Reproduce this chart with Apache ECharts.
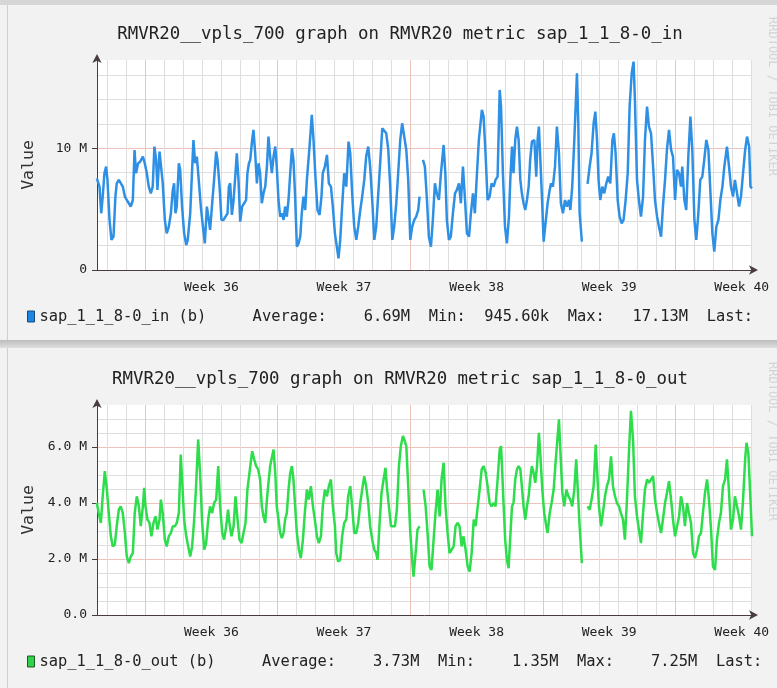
<!DOCTYPE html>
<html><head><meta charset="utf-8">
<script src="https://cdn.jsdelivr.net/npm/echarts@6/dist/echarts.min.js"></script>
<style>html,body{margin:0;padding:0;background:#f2f2f2;}#c{width:777px;height:688px;}</style>
</head><body><div id="c"></div>
<script>
// ---- data (time in days relative to the start of Week 36, values in M) ----
const hourStart = -61, hourEnd = 769;        // visible period, hours from Week 36 start
const firstWeek = 36;
const titles = ['RMVR20__vpls_700 graph on RMVR20 metric sap_1_1_8-0_in',
                'RMVR20__vpls_700 graph on RMVR20 metric sap_1_1_8-0_out'];
const seriesNames = ['sap_1_1_8-0_in (b)', 'sap_1_1_8-0_out (b)'];
const inStats = ['6.69M', '945.60k', '17.13M'];
const outStats = ['3.73M', '1.35M', '7.25M'];
const inAxis = {max: 17.25, minor: 2, major: 10};
const outAxis = {max: 7.5, minor: 0.5, major: 2};
const watermark = 'RRDTOOL / TOBI OETIKER';

const inSeries = [[-2.55,7.53],[-2.41,6.85],[-2.32,4.66],[-2.24,6.03],[-2.15,7.95],[-2.06,8.49],[-1.99,7.40],[-1.88,4.11],[-1.78,2.47],[-1.67,2.74],[-1.57,6.03],[-1.50,7.12],[-1.39,7.40],[-1.29,7.53],[-1.18,6.85],[-1.07,6.03],[-0.97,5.75],[-0.86,5.48],[-0.76,5.21],[-0.65,5.75],[-0.56,9.86],[-0.48,7.95],[-0.37,8.77],[-0.26,8.90],[-0.12,9.32],[-0.02,8.77],[0.09,7.95],[0.19,6.85],[0.30,6.30],[0.40,6.85],[0.49,10.14],[0.58,9.04],[0.65,6.58],[0.76,9.73],[0.85,9.59],[0.93,7.12],[1.04,4.11],[1.14,3.01],[1.25,3.56],[1.36,4.66],[1.46,6.58],[1.53,7.12],[1.60,4.66],[1.67,5.21],[1.78,8.77],[1.85,8.22],[1.95,5.21],[2.06,3.01],[2.17,2.05],[2.25,2.47],[2.38,4.66],[2.48,8.22],[2.55,10.68],[2.64,8.77],[2.73,9.32],[2.83,7.40],[2.94,5.21],[3.05,3.56],[3.15,2.19],[3.26,5.21],[3.36,4.11],[3.43,3.29],[3.54,5.48],[3.64,7.40],[3.75,9.73],[3.82,9.04],[3.93,6.85],[4.03,4.11],[4.14,4.11],[4.24,3.97],[4.35,4.66],[4.42,6.85],[4.49,7.12],[4.58,4.52],[4.67,5.75],[4.77,7.95],[4.84,9.59],[4.93,7.40],[5.02,3.97],[5.12,5.21],[5.23,5.48],[5.33,5.75],[5.40,7.95],[5.48,8.77],[5.55,9.04],[5.65,10.68],[5.72,11.51],
[5.81,9.59],[5.90,7.12],[5.99,8.77],[6.07,7.95],[6.16,5.48],[6.25,6.30],[6.34,6.85],[6.43,8.49],[6.51,10.96],[6.60,9.32],[6.69,7.95],[6.78,9.32],[6.87,10.14],[6.95,8.49],[7.04,5.75],[7.13,4.38],[7.22,4.66],[7.31,4.11],[7.39,5.21],[7.48,4.38],[7.57,5.75],[7.66,7.95],[7.75,10.00],[7.83,9.04],[7.92,6.03],[8.01,1.92],[8.10,2.19],[8.19,2.74],[8.27,4.66],[8.36,6.03],[8.45,4.93],[8.54,7.40],[8.68,10.14],[8.80,12.74],[8.89,10.68],[9.00,7.40],[9.10,4.93],[9.21,4.52],[9.31,6.03],[9.38,7.95],[9.49,8.49],[9.60,9.45],[9.70,7.12],[9.81,6.85],[9.91,5.21],[10.02,3.01],[10.12,1.92],[10.21,0.96],[10.30,2.47],[10.40,5.21],[10.51,7.95],[10.62,6.85],[10.74,10.55],[10.83,9.59],[10.93,6.30],[11.04,3.56],[11.15,2.47],[11.25,3.56],[11.36,4.93],[11.46,6.03],[11.57,7.40],[11.67,9.32],[11.78,10.14],[11.88,8.49],[11.99,5.75],[12.10,2.47],[12.20,3.56],[12.31,6.30],[12.42,9.04],[12.52,11.64],[12.62,11.78],[12.73,11.23],[12.84,9.86],[12.94,6.85],[13.05,2.47],[13.15,3.56],[13.26,5.48],[13.36,7.95],[13.47,10.68],[13.57,12.05],[13.68,10.96],[13.79,9.86],[13.89,7.40],[14.00,2.47],[14.10,3.56],[14.21,4.11],[14.31,4.38],[14.42,4.93],[14.49,6.03],[14.58,'-'],[14.67,9.04],[14.77,8.49],[14.88,5.75],[14.98,2.74],[15.09,1.92],[15.19,4.11],[15.30,7.12],[15.40,6.30],[15.51,5.75],[15.62,7.95],[15.76,10.27],[15.85,7.95],[15.93,4.11],[16.04,2.47],[16.14,2.74],[16.25,4.66],[16.36,6.30],[16.46,6.58],[16.57,7.12],[16.67,5.48],[16.78,8.49],[16.89,5.75],[16.99,3.01],[17.10,2.74],[17.20,4.66],[17.31,6.30],[17.41,4.66],[17.52,7.95],[17.62,10.68],[17.78,13.15],[17.87,12.60],[17.98,9.32],[18.08,5.75],[18.19,6.03],[18.29,7.12],[18.40,6.85],[18.50,7.40],[18.61,7.67],[18.72,14.79],[18.79,13.42],[18.89,7.95],[19.00,3.56],[19.10,2.19],[19.21,4.38],
[19.28,7.40],[19.37,10.14],[19.45,7.95],[19.54,10.68],[19.63,11.78],[19.72,10.68],[19.81,7.40],[19.89,6.30],[19.98,5.48],[20.07,4.93],[20.16,5.75],[20.25,6.85],[20.33,9.04],[20.42,10.55],[20.55,10.68],[20.65,7.67],[20.72,10.68],[20.79,11.78],[20.86,9.32],[20.95,6.03],[21.04,2.33],[21.14,3.84],[21.25,5.48],[21.36,6.58],[21.43,7.12],[21.53,6.85],[21.64,8.49],[21.74,11.78],[21.85,9.59],[21.95,5.48],[22.06,4.66],[22.17,5.75],[22.27,5.21],[22.38,5.75],[22.45,4.93],[22.55,6.85],[22.66,10.68],[22.80,16.16],[22.87,12.05],[22.94,4.66],[23.06,2.33],[23.2,'-'],[23.36,7.07],[23.47,8.49],[23.57,9.59],[23.68,12.05],[23.77,13.01],[23.86,10.68],[23.94,7.40],[24.03,5.75],[24.14,6.85],[24.24,6.30],[24.35,7.12],[24.45,7.67],[24.56,7.12],[24.67,10.68],[24.75,11.23],[24.84,9.59],[24.95,5.75],[25.05,4.38],[25.16,3.84],[25.26,4.11],[25.37,5.75],[25.48,7.95],[25.58,13.42],[25.69,16.16],[25.79,17.12],[25.86,13.97],[25.97,7.40],[26.07,5.75],[26.18,4.38],[26.29,6.03],[26.39,10.68],[26.50,13.42],[26.60,11.78],[26.71,11.23],[26.82,8.49],[26.92,5.75],[27.03,4.38],[27.13,3.56],[27.24,2.74],[27.34,5.21],[27.45,7.40],[27.55,9.86],[27.66,11.51],[27.77,9.86],[27.87,9.32],[27.98,5.75],[28.08,8.22],[28.19,7.95],[28.29,6.85],[28.36,8.49],[28.47,5.75],[28.57,4.93],[28.68,9.32],[28.79,12.60],[28.89,9.86],[29.00,4.11],[29.10,2.47],[29.21,4.66],[29.31,7.40],[29.42,7.67],[29.52,9.04],[29.63,10.68],[29.74,9.86],[29.84,6.58],[29.95,3.01],[30.05,1.51],[30.16,3.56],[30.27,4.11],[30.37,5.75],[30.48,6.85],[30.58,8.49],[30.72,10.14],[30.83,8.49],[30.93,6.85],[31.04,6.03],[31.14,7.40],[31.25,6.30],[31.36,5.21],[31.46,6.03],[31.57,7.95],[31.68,9.86],[31.78,10.96],[31.89,10.14],[31.96,6.85],[32.04,6.71]];

const outSeries = [[-2.55,4.00],[-2.45,3.64],[-2.34,3.29],[-2.24,4.24],[-2.13,5.14],[-2.02,4.48],[-1.92,3.64],[-1.81,2.81],[-1.71,2.45],[-1.60,2.51],[-1.50,3.17],[-1.39,3.76],[-1.29,3.88],[-1.18,3.64],[-1.07,2.93],[-0.97,2.09],[-0.86,1.85],[-0.76,2.09],[-0.65,2.21],[-0.55,3.64],[-0.44,4.24],[-0.33,3.88],[-0.23,3.17],[-0.12,3.88],[-0.05,4.54],[0.02,3.88],[0.12,3.41],[0.23,3.29],[0.33,2.81],[0.44,3.29],[0.55,3.52],[0.65,3.05],[0.76,3.41],[0.83,4.12],[0.93,3.64],[1.04,2.69],[1.14,2.45],[1.25,2.81],[1.36,2.93],[1.46,3.17],[1.57,3.17],[1.67,3.29],[1.78,3.64],[1.88,5.73],[1.95,4.84],[2.06,3.41],[2.17,2.81],[2.27,2.81],[2.38,2.09],[2.48,2.45],[2.59,3.41],[2.69,4.60],[2.80,6.27],[2.90,5.08],[3.01,3.29],[3.12,2.33],[3.22,2.57],[3.33,3.41],[3.43,3.88],[3.54,3.64],[3.64,4.00],[3.75,4.12],[3.86,5.32],[3.96,3.88],[4.07,2.93],[4.17,2.69],[4.28,3.17],[4.38,3.76],[4.45,3.29],[4.56,2.81],[4.67,3.17],[4.77,4.24],[4.88,3.41],[4.98,2.69],[5.09,2.57],[5.19,2.63],[5.30,3.29],[5.40,4.48],[5.51,5.08],[5.65,5.85],[5.76,5.56],[5.86,5.32],[5.97,5.20],[6.07,4.84],
[6.16,3.88],[6.25,3.52],[6.34,3.29],[6.43,4.12],[6.51,4.72],[6.60,5.32],[6.69,5.62],[6.78,5.91],[6.87,5.08],[6.95,3.88],[7.04,3.41],[7.13,2.93],[7.22,2.75],[7.31,2.93],[7.39,3.41],[7.48,3.64],[7.57,4.48],[7.66,5.08],[7.75,5.32],[7.83,4.84],[7.92,3.88],[8.01,2.93],[8.12,2.33],[8.22,2.03],[8.33,2.69],[8.43,3.64],[8.54,4.48],[8.64,4.12],[8.75,4.60],[8.86,3.88],[8.96,3.41],[9.07,2.81],[9.17,2.57],[9.28,2.81],[9.38,3.88],[9.49,4.48],[9.60,4.24],[9.70,4.60],[9.81,4.84],[9.91,3.88],[10.02,3.17],[10.09,2.21],[10.19,1.91],[10.30,1.97],[10.40,2.81],[10.51,3.29],[10.62,3.41],[10.72,4.24],[10.83,4.60],[10.93,3.88],[11.04,2.93],[11.15,2.93],[11.25,3.29],[11.36,4.00],[11.46,4.48],[11.57,4.96],[11.67,4.60],[11.78,4.00],[11.88,3.17],[11.99,2.69],[12.10,2.33],[12.20,2.21],[12.27,1.97],[12.38,3.29],[12.48,4.36],[12.59,4.84],[12.69,5.26],[12.76,4.60],[12.87,3.88],[12.98,3.17],[13.08,3.17],[13.19,3.17],[13.29,3.76],[13.40,5.32],[13.50,6.03],[13.61,6.39],[13.68,6.27],[13.79,6.03],[13.89,4.60],[14.00,2.93],[14.10,1.97],[14.17,1.37],[14.28,2.21],[14.38,3.05],[14.49,3.17],[14.6,'-'],[14.70,4.48],[14.81,3.88],[14.91,2.93],[15.02,1.73],[15.12,1.61],[15.23,2.69],[15.33,3.64],[15.44,4.48],[15.55,3.52],[15.65,4.84],[15.76,5.44],[15.86,3.88],[15.97,2.93],[16.07,2.21],[16.18,2.33],[16.29,2.45],[16.39,3.17],[16.50,3.29],[16.60,3.17],[16.71,2.45],[16.81,2.81],[16.92,2.33],[17.03,1.73],[17.13,1.55],[17.24,2.21],[17.35,3.41],[17.45,3.17],[17.56,3.88],[17.66,4.48],[17.77,5.20],[17.87,5.32],[17.98,5.08],[18.08,4.60],[18.19,4.00],[18.29,3.88],[18.40,4.00],[18.50,3.88],[18.61,4.84],[18.72,5.91],[18.79,6.03],
[18.84,5.32],[18.93,3.88],[19.01,2.69],[19.10,1.97],[19.19,1.67],[19.28,2.81],[19.37,3.88],[19.45,4.00],[19.54,4.84],[19.63,5.20],[19.72,5.32],[19.81,5.20],[19.89,4.60],[19.98,3.88],[20.07,3.41],[20.16,3.88],[20.25,4.24],[20.33,4.84],[20.42,5.32],[20.51,5.08],[20.60,4.72],[20.69,5.32],[20.79,6.51],[20.86,5.79],[20.97,4.48],[21.07,3.64],[21.18,3.17],[21.25,2.93],[21.36,3.64],[21.46,4.00],[21.57,4.48],[21.67,5.44],[21.78,6.39],[21.85,6.99],[21.92,5.91],[22.03,4.36],[22.13,3.88],[22.24,4.48],[22.35,4.24],[22.45,4.12],[22.55,3.88],[22.66,4.48],[22.76,5.56],[22.87,4.12],[22.94,3.17],[23.06,1.85],[23.2,'-'],[23.36,3.88],[23.47,3.76],[23.57,4.12],[23.68,4.60],[23.79,6.09],[23.86,5.20],[23.96,3.88],[24.07,3.17],[24.17,3.64],[24.28,4.24],[24.38,4.60],[24.49,4.84],[24.60,5.67],[24.70,4.60],[24.81,4.24],[24.91,4.00],[25.02,3.88],[25.12,3.64],[25.23,3.41],[25.33,2.69],[25.44,4.12],[25.55,5.91],[25.65,7.29],[25.76,6.27],[25.86,4.24],[25.97,3.52],[26.07,3.05],[26.18,2.57],[26.29,3.64],[26.39,4.48],[26.50,4.84],[26.60,4.72],[26.71,4.84],[26.82,4.96],[26.92,4.12],[27.03,3.64],[27.13,3.29],[27.24,2.93],[27.34,3.41],[27.45,4.00],[27.55,4.36],[27.66,4.78],[27.77,4.12],[27.87,3.41],[27.98,2.81],[28.08,2.81],[28.19,3.52],[28.29,4.24],[28.40,3.88],[28.50,3.17],[28.61,4.00],[28.71,3.64],[28.82,3.29],[28.93,2.21],[29.03,2.03],[29.14,2.33],[29.24,2.81],[29.35,2.93],[29.45,3.64],[29.56,4.36],[29.67,4.84],[29.77,4.12],[29.88,3.05],[29.98,1.73],[30.09,1.61],[30.19,2.69],[30.30,3.29],[30.40,3.64],[30.51,4.60],[30.62,4.84],[30.72,5.56],[30.83,4.36],[30.93,3.05],[31.04,3.41],[31.14,4.24],[31.25,3.88],[31.36,3.52],[31.46,3.05],[31.57,4.12],[31.68,5.56],[31.75,6.15],[31.85,5.79],[31.96,4.12],[32.04,2.81]];

// ---- chart ----
const MONO = "'DejaVu Sans Mono', monospace";
const hours = [];
for (let h = hourStart; h <= hourEnd; h++) hours.push(String(h));

const panels = [
  {top: 60, title: 26, legend: 309, axis: inAxis, color: '#2e90e4', icon: '#1f86e0', iconBorder: '#174a7c',
   data: inSeries, stats: inStats, fmt: v => v === 0 ? '0' : v + ' M'},
  {top: 405, title: 371, legend: 654, axis: outAxis, color: '#2ddd4c', icon: '#2fd24a', iconBorder: '#1d5a26',
   data: outSeries, stats: outStats, fmt: v => v.toFixed(1) + (v === 0 ? '' : ' M')}
];
const AXIS_COL = '#4a3c3c', MINOR = '#dedede', MAJOR = '#efc2bc';

function legendText(name, s) {
  return name + '     Average:' + s[0].padStart(9) + '  Min:' + s[1].padStart(9) +
         '  Max:' + s[2].padStart(9) + '  Last:';
}

const option = {
  backgroundColor: '#f2f2f2',
  animation: false,
  title: panels.map((p, i) => ({
    text: titles[i], left: 400, top: p.title, textAlign: 'center', padding: 0,
    textStyle: {fontFamily: MONO, fontSize: 17.4, fontWeight: 'normal', color: '#222'}
  })),
  legend: panels.map((p, i) => ({
    left: 27, top: p.legend, padding: 0, itemWidth: 7, itemHeight: 11, icon: 'rect',
    data: [{name: seriesNames[i], itemStyle: {color: p.icon, borderColor: p.iconBorder, borderWidth: 1}}],
    formatter: n => legendText(n, p.stats),
    textStyle: {fontFamily: MONO, fontSize: 15.4, color: '#222'},
    selectedMode: false
  })),
  grid: panels.map(p => ({left: 97, top: p.top, width: 655, height: 210, show: true,
    backgroundColor: '#ffffff', borderWidth: 0})),
  xAxis: [],
  yAxis: [],
  series: [],
  graphic: []
};

panels.forEach((p, i) => {
  const gx = option.xAxis.length;
  // daily minor grid
  option.xAxis.push({type: 'category', gridIndex: i, data: hours, boundaryGap: false, position: 'bottom',
    axisLine: {show: false}, axisTick: {show: false}, axisLabel: {show: false},
    splitLine: {show: true, interval: (idx, v) => (+v) % 24 === 0 && (+v) % 168 !== 0,
      lineStyle: {color: MINOR, width: 1}}});
  // weekly major grid + labels + axis line
  option.xAxis.push({type: 'category', gridIndex: i, data: hours, boundaryGap: false, position: 'bottom',
    axisLine: {show: true, lineStyle: {color: AXIS_COL, width: 1}, symbol: ['none', 'arrow'],
      symbolSize: [7, 9], symbolOffset: [0, 6]},
    axisTick: {show: false},
    axisLabel: {show: true, interval: (idx, v) => ((+v) - 84) % 168 === 0, margin: 11,
      formatter: v => 'Week ' + (firstWeek + ((+v) - 84) / 168),
      fontFamily: MONO, fontSize: 13, color: '#222'},
    splitLine: {show: true, interval: (idx, v) => (+v) % 168 === 0, lineStyle: {color: MAJOR, width: 1}}});
  // data axis (days)
  option.xAxis.push({type: 'value', gridIndex: i, show: false, min: hourStart / 24, max: hourEnd / 24, position: 'bottom'});

  const gy = option.yAxis.length;
  option.yAxis.push({type: 'value', gridIndex: i, position: 'left', min: 0, max: p.axis.max, interval: p.axis.minor,
    axisLine: {show: false}, axisTick: {show: false}, axisLabel: {show: false},
    splitLine: {show: true, showMinLine: false, showMaxLine: false, lineStyle: {color: MINOR, width: 1}}});
  option.yAxis.push({type: 'value', gridIndex: i, position: 'left', min: 0, max: p.axis.max, interval: p.axis.major,
    name: 'Value', nameLocation: 'middle', nameGap: 60, nameRotate: 90,
    nameTextStyle: {fontFamily: MONO, fontSize: 16.5, color: '#333'},
    axisLine: {show: true, lineStyle: {color: AXIS_COL, width: 1}, symbol: ['none', 'arrow'],
      symbolSize: [7, 9], symbolOffset: [0, 6]},
    axisTick: {show: true, length: 5, lineStyle: {color: AXIS_COL}},
    axisLabel: {show: true, margin: 10, showMaxLabel: false, formatter: p.fmt,
      fontFamily: MONO, fontSize: 13, color: '#222'},
    splitLine: {show: true, showMinLine: false, showMaxLine: false, lineStyle: {color: MAJOR, width: 1}}});

  option.series.push({type: 'line', name: seriesNames[i], xAxisIndex: gx + 2, yAxisIndex: gy + 1,
    data: p.data, showSymbol: false, connectNulls: false, silent: true, z: 5,
    lineStyle: {color: p.color, width: 2.5}, itemStyle: {color: p.icon}});
});

// frame decoration
option.graphic = [
  {type: 'rect', shape: {x: 0, y: 0, width: 777, height: 5}, style: {fill: '#d6d6d6'}, z: -1},
  {type: 'line', shape: {x1: 7.5, y1: 5, x2: 7.5, y2: 340}, style: {stroke: '#cfcfcf', lineWidth: 1}},
  {type: 'line', shape: {x1: 7.5, y1: 348, x2: 7.5, y2: 688}, style: {stroke: '#cfcfcf', lineWidth: 1}},
  {type: 'rect', shape: {x: 0, y: 340, width: 777, height: 8},
    style: {fill: new echarts.graphic.LinearGradient(0, 0, 0, 1, [{offset: 0, color: '#bdbdbd'}, {offset: 1, color: '#dedede'}])}},
  {type: 'text', x: 772, y: 17, rotation: -Math.PI / 2,
    style: {text: watermark, font: "12px 'DejaVu Sans Mono'", fill: '#d3d3d3', textAlign: 'left', textVerticalAlign: 'middle'}},
  {type: 'text', x: 772, y: 362, rotation: -Math.PI / 2,
    style: {text: watermark, font: "12px 'DejaVu Sans Mono'", fill: '#d3d3d3', textAlign: 'left', textVerticalAlign: 'middle'}}
];

const chart = echarts.init(document.getElementById('c'), null, {renderer: 'canvas'});
chart.setOption(option);
</script>
</body></html>
